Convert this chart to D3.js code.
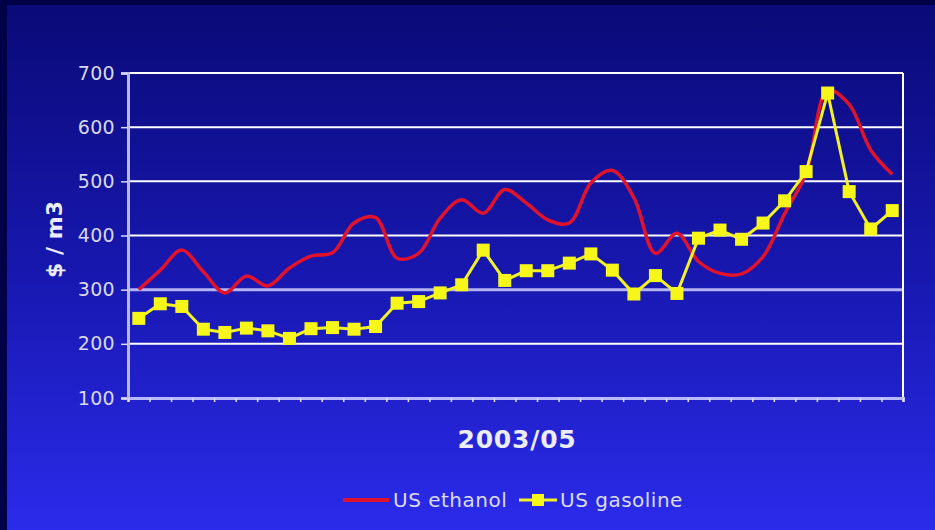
<!DOCTYPE html>
<html>
<head>
<meta charset="utf-8">
<script src="https://cdn.jsdelivr.net/npm/d3@7"></script>
<style>
  html, body { margin: 0; padding: 0; background: #000048; }
  svg { display: block; }
</style>
</head>
<body>
<svg id="chart" width="935" height="530"></svg>
<script>
// Monthly prices, $/m3, 36 months
const months = d3.range(36);
const ethanol = [300, 336, 373, 333, 294, 325, 307, 340, 362, 368, 423, 433,
                 358, 367, 432, 466, 441, 485, 460, 429, 423, 497, 520, 470,
                 367, 404, 352, 330, 329, 361, 440, 515, 668, 642, 558, 513];
const gasoline = [247, 274, 269, 227, 221, 229, 224, 210, 228, 230, 227, 232,
                  275, 278, 294, 309, 373, 317, 335, 335, 349, 366, 336, 292,
                  326, 293, 395, 410, 393, 423, 464, 518, 663, 481, 412, 446];
const yTicks = [100, 200, 300, 400, 500, 600, 700];
const xTitle = "2003/05";
const yTitle = "$ / m3";
const seriesNames = ["US ethanol", "US gasoline"];

const svg = d3.select("#chart");
const W = 935, H = 530;
const plot = { left: 128, right: 903, top: 73, bottom: 398 };
const FONT = "'DejaVu Sans', Verdana, sans-serif";

// Slide background: dark frame with a vertical blue gradient
const defs = svg.append("defs");
const grad = defs.append("linearGradient").attr("id", "bg")
  .attr("x1", 0).attr("y1", 0).attr("x2", 0).attr("y2", 1);
grad.append("stop").attr("offset", "0%").attr("stop-color", "#0a0a78");
grad.append("stop").attr("offset", "50%").attr("stop-color", "#1717ae");
grad.append("stop").attr("offset", "100%").attr("stop-color", "#2b2beb");

svg.append("rect").attr("width", W).attr("height", H).attr("fill", "#000048");
svg.append("rect").attr("x", 7).attr("y", 5).attr("width", W - 7).attr("height", H - 5)
  .attr("fill", "url(#bg)");

const x = d3.scaleLinear().domain([0, months.length]).range([plot.left, plot.right]);
const y = d3.scaleLinear().domain([100, 700]).range([plot.bottom, plot.top]);
const cx = i => x(i + 0.5);

// Horizontal gridlines
svg.append("g").selectAll("line").data(yTicks.filter(v => v > 100)).join("line")
  .attr("x1", plot.left).attr("x2", plot.right)
  .attr("y1", d => y(d)).attr("y2", d => y(d))
  .attr("stroke", d => d === 300 ? "#b4b4f4" : "#ffffff")
  .attr("stroke-width", d => d === 300 ? 3 : 2);

// Right border
svg.append("line")
  .attr("x1", plot.right).attr("x2", plot.right)
  .attr("y1", plot.top).attr("y2", plot.bottom)
  .attr("stroke", "#ffffff").attr("stroke-width", 2);

// Y axis
const yAxis = svg.append("g").attr("transform", `translate(${plot.left},0)`)
  .call(d3.axisLeft(y).tickValues(yTicks).tickSize(7).tickPadding(6).tickFormat(d3.format("d")));
yAxis.select(".domain").attr("stroke", "#b8b8ff").attr("stroke-width", 3);
yAxis.selectAll(".tick line").attr("stroke", "#d8d8ff").attr("stroke-width", 1.5);
yAxis.selectAll(".tick text")
  .attr("fill", "#d8d8f4")
  .style("font-family", FONT)
  .style("font-size", "19px")
  .style("letter-spacing", "0.3px");

// X axis: unlabeled month ticks
const xAxis = svg.append("g").attr("transform", `translate(0,${plot.bottom})`)
  .call(d3.axisBottom(x).tickValues(d3.range(months.length + 1))
    .tickSize(4).tickFormat(""));
xAxis.select(".domain").attr("stroke", "#b8b8ff").attr("stroke-width", 3);
xAxis.selectAll(".tick line").attr("stroke", "#e0e0ff").attr("stroke-width", 1.5);

// Axis titles
svg.append("text")
  .attr("transform", `translate(62,${(plot.top + plot.bottom) / 2 + 4}) rotate(-90)`)
  .attr("text-anchor", "middle")
  .attr("fill", "#ececff")
  .style("font-family", FONT)
  .style("font-weight", "bold").style("font-size", "22px")
  .text(yTitle);

svg.append("text")
  .attr("x", 517).attr("y", 448)
  .attr("text-anchor", "middle")
  .attr("fill", "#ececff")
  .style("font-family", FONT)
  .style("font-weight", "bold").style("font-size", "25px")
  .style("letter-spacing", "0.8px")
  .text(xTitle);

// Ethanol: smoothed line
const ethLine = d3.line().x((d, i) => cx(i)).y(d => y(d)).curve(d3.curveCatmullRom.alpha(0.5));
svg.append("path").datum(ethanol)
  .attr("d", ethLine)
  .attr("fill", "none").attr("stroke", "#e0122c").attr("stroke-width", 3.5)
  .attr("stroke-linejoin", "round");

// Gasoline: straight line with square markers
const gasLine = d3.line().x((d, i) => cx(i)).y(d => y(d));
svg.append("path").datum(gasoline)
  .attr("d", gasLine)
  .attr("fill", "none").attr("stroke", "#f2f224").attr("stroke-width", 3)
  .attr("stroke-linejoin", "round");
const ms = 13;
svg.append("g").selectAll("rect").data(gasoline).join("rect")
  .attr("x", (d, i) => cx(i) - ms / 2).attr("y", d => y(d) - ms / 2)
  .attr("width", ms).attr("height", ms)
  .attr("fill", "#f6f618");

// Legend
const lg = svg.append("g").style("font-family", FONT)
  .style("font-size", "20px").style("letter-spacing", "0.5px");
lg.append("line").attr("x1", 343).attr("x2", 389).attr("y1", 500).attr("y2", 500)
  .attr("stroke", "#e0122c").attr("stroke-width", 4);
lg.append("text").attr("x", 393).attr("y", 507).attr("fill", "#dcdcf8").text(seriesNames[0]);
lg.append("line").attr("x1", 519).attr("x2", 557).attr("y1", 500).attr("y2", 500)
  .attr("stroke", "#f2f224").attr("stroke-width", 3);
lg.append("rect").attr("x", 538 - 6).attr("y", 500 - 6).attr("width", 12).attr("height", 12)
  .attr("fill", "#f6f618");
lg.append("text").attr("x", 560).attr("y", 507).attr("fill", "#dcdcf8").text(seriesNames[1]);
</script>
</body>
</html>
